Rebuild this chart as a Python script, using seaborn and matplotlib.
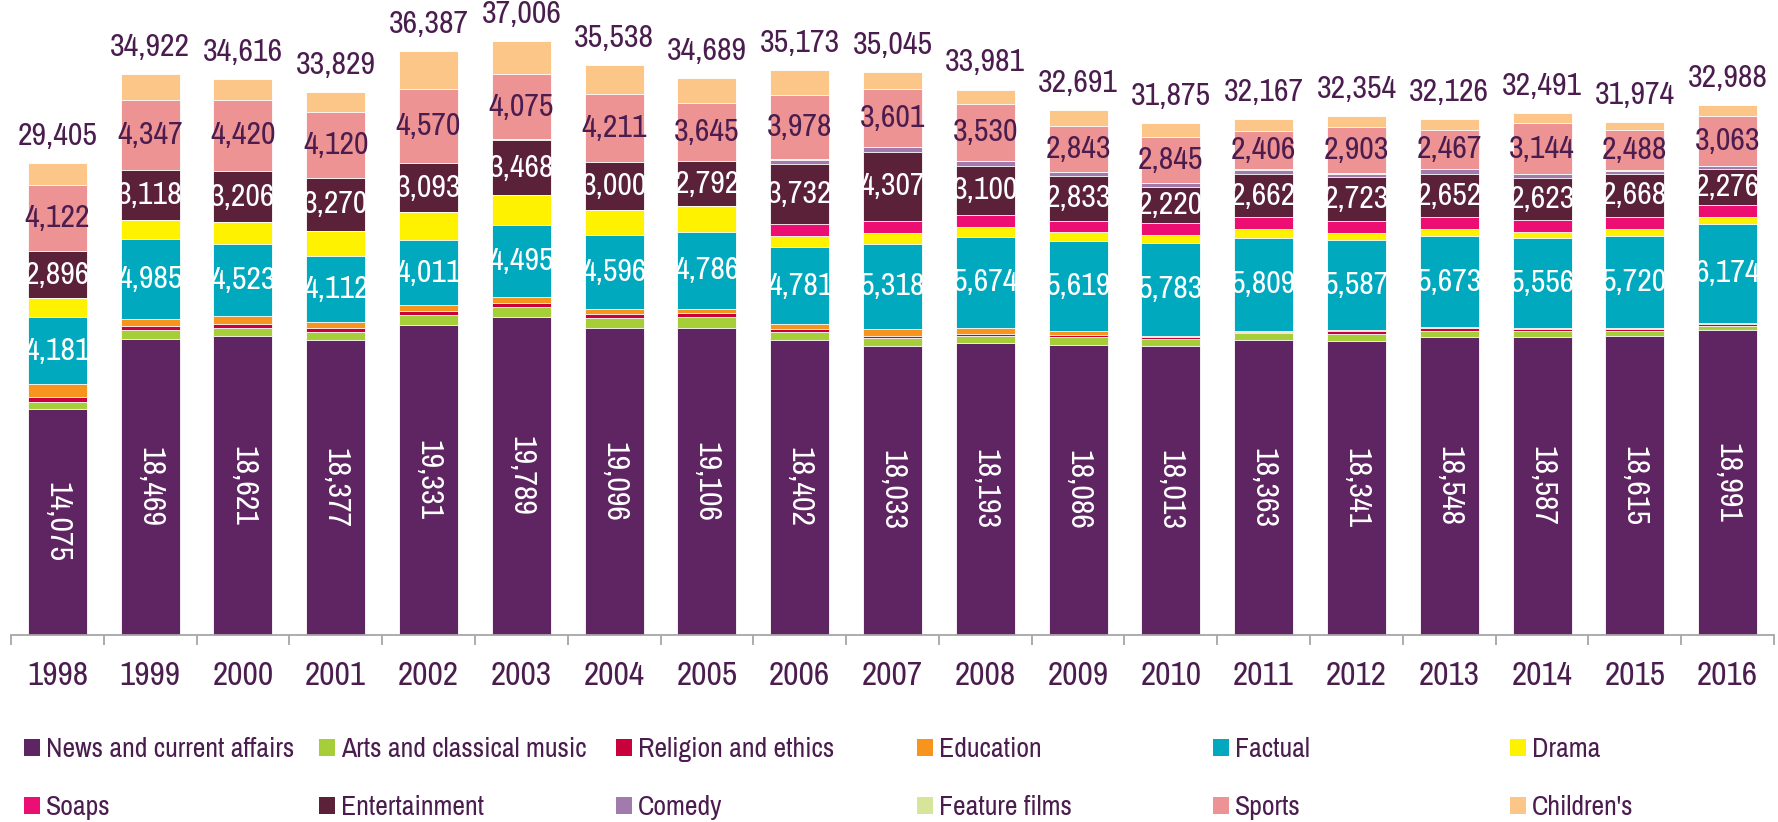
import numpy as np
import pandas as pd
import matplotlib
matplotlib.use("Agg")
import matplotlib.pyplot as plt
from matplotlib import font_manager
from matplotlib.patches import Patch
import seaborn as sns

# ---------------- data ----------------
years = [1998, 1999, 2000, 2001, 2002, 2003, 2004, 2005, 2006, 2007,
         2008, 2009, 2010, 2011, 2012, 2013, 2014, 2015, 2016]

news = [14075, 18469, 18621, 18377, 19331, 19789, 19096, 19106, 18402, 18033,
        18193, 18086, 18013, 18363, 18341, 18548, 18587, 18615, 18991]
arts = [420, 559, 476, 476, 621, 662, 642, 683, 480, 476,
        414, 470, 414, 435, 400, 393, 373, 352, 290]
religion = [340, 248, 290, 248, 248, 248, 248, 248, 207, 145,
            166, 145, 166, 104, 186, 166, 124, 124, 124]
education = [780, 435, 476, 393, 373, 373, 331, 290, 290, 414,
             352, 207, 41, 41, 104, 62, 62, 62, 41]
factual = [4181, 4985, 4523, 4112, 4011, 4495, 4596, 4786, 4781, 5318,
           5674, 5619, 5783, 5809, 5587, 5673, 5556, 5720, 6174]
drama = [1200, 1159, 1325, 1594, 1739, 1822, 1553, 1594, 725, 662,
         621, 553, 476, 538, 435, 455, 414, 393, 435]
soaps = [0, 0, 0, 0, 0, 0, 0, 0, 745, 745,
         725, 704, 766, 745, 745, 745, 725, 787, 725]
entertainment = [2896, 3118, 3206, 3270, 3093, 3468, 3000, 2792, 3732, 4307,
                 3100, 2833, 2220, 2662, 2723, 2652, 2623, 2668, 2276]
comedy = [0, 0, 0, 0, 0, 0, 0, 0, 253, 310,
          290, 228, 290, 290, 230, 310, 248, 207, 166]
feature_films = [20, 20, 20, 20, 20, 20, 20, 20, 20, 20,
                 20, 20, 20, 20, 20, 20, 20, 20, 20]
sports = [4122, 4347, 4420, 4120, 4570, 4075, 4211, 3645, 3978, 3601,
          3530, 2843, 2845, 2406, 2903, 2467, 3144, 2488, 3063]
childrens = [1371, 1582, 1259, 1219, 2381, 2054, 1841, 1525, 1560, 1014,
             896, 983, 841, 754, 680, 635, 615, 538, 683]

totals = [29405, 34922, 34616, 33829, 36387, 37006, 35538, 34689, 35173, 35045,
          33981, 32691, 31875, 32167, 32354, 32126, 32491, 31974, 32988]

categories = ["News and current affairs", "Arts and classical music", "Religion and ethics",
              "Education", "Factual", "Drama", "Soaps", "Entertainment", "Comedy",
              "Feature films", "Sports", "Children's"]
colors = ["#5F2462", "#A6CE39", "#C8003C", "#F7941D", "#00A9BD", "#FFF200",
          "#EC0E72", "#5A2139", "#A27AAE", "#D7E59B", "#EE9393", "#FCC688"]

series = [news, arts, religion, education, factual, drama, soaps,
          entertainment, comedy, feature_films, sports, childrens]

# ---------------- style ----------------
sns.set_theme(style="white")
avail = {f.name for f in font_manager.fontManager.ttflist}
fam = "Liberation Sans"
for cand in ["Liberation Sans Narrow", "Arial Narrow", "Archivo Narrow", "PT Sans Narrow",
             "Roboto Condensed"]:
    if cand in avail:
        fam = cand
        break
plt.rcParams["font.family"] = [fam, "DejaVu Sans"]
TXT = "#4B1D4F"

W, H = 1778, 822
fig = plt.figure(figsize=(W / 100, H / 100), dpi=100)
ax = fig.add_axes([11 / W, (H - 635) / H, (1774 - 11) / W, 635 / H])

cum = np.cumsum(np.array(series, dtype=float), axis=0)
df = pd.DataFrame({"year": [str(y) for y in years]})
layers = [None] * len(series)
for i in reversed(range(len(series))):
    df["v"] = cum[i]
    sns.barplot(data=df, x="year", y="v", color=colors[i], saturation=1,
                width=0.636, edgecolor="white", linewidth=0.6,
                errorbar=None, ax=ax)
    layers[i] = ax.containers[-1]

ax.set_xlim(-0.5, len(years) - 0.5)
ax.set_ylim(0, 39560)
ax.set_xlabel("")
ax.set_ylabel("")
ax.set_yticks([])
for s in ["left", "top", "right"]:
    ax.spines[s].set_visible(False)
ax.spines["bottom"].set_color("#A6A6A6")
ax.spines["bottom"].set_linewidth(1.3)

ax.set_xticks(range(len(years)))
ax.set_xticklabels([str(y) for y in years], fontsize=24, color=TXT)
ax.set_xticks(np.arange(-0.5, len(years)), minor=True)
ax.tick_params(axis="x", which="major", length=0, pad=18.5)
ax.tick_params(axis="x", which="minor", bottom=True, length=7.2, width=1.3,
               color="#A6A6A6", direction="out")

# ---------------- labels ----------------
def seg_label(idx, color, rot=0):
    base = cum[idx - 1] if idx > 0 else np.zeros(len(years))
    vals = series[idx]
    for j, v in enumerate(vals):
        t = ax.text(j, base[j] + v / 2, f"{v:,}", ha="center", va="center",
                    fontsize=23, color=color, rotation=rot)
        t.set_clip_path(layers[idx].patches[j])

seg_label(0, "white", rot=270)
seg_label(4, "white")
seg_label(7, "white")
seg_label(10, TXT)

for j, tot in enumerate(totals):
    ax.annotate(f"{tot:,}", (j, cum[-1][j]), xytext=(0, 13), textcoords="offset points",
                ha="center", va="baseline", fontsize=23, color=TXT)

# ---------------- legend (6 columns x 2 rows) ----------------
col_x = [24, 319, 616, 917, 1213, 1510]
for c in range(6):
    idxs = [c, c + 6]
    handles = [Patch(facecolor=colors[k], edgecolor="none") for k in idxs]
    fig.legend(handles, [categories[k] for k in idxs], loc="upper left",
               bbox_to_anchor=(col_x[c] / W, 1 - 737 / H), frameon=False,
               fontsize=20, handlelength=0.565, handleheight=0.565,
               handletextpad=0.23, labelspacing=1.2, borderpad=0,
               borderaxespad=0, labelcolor=TXT)

fig.savefig("out.png", dpi=100)
